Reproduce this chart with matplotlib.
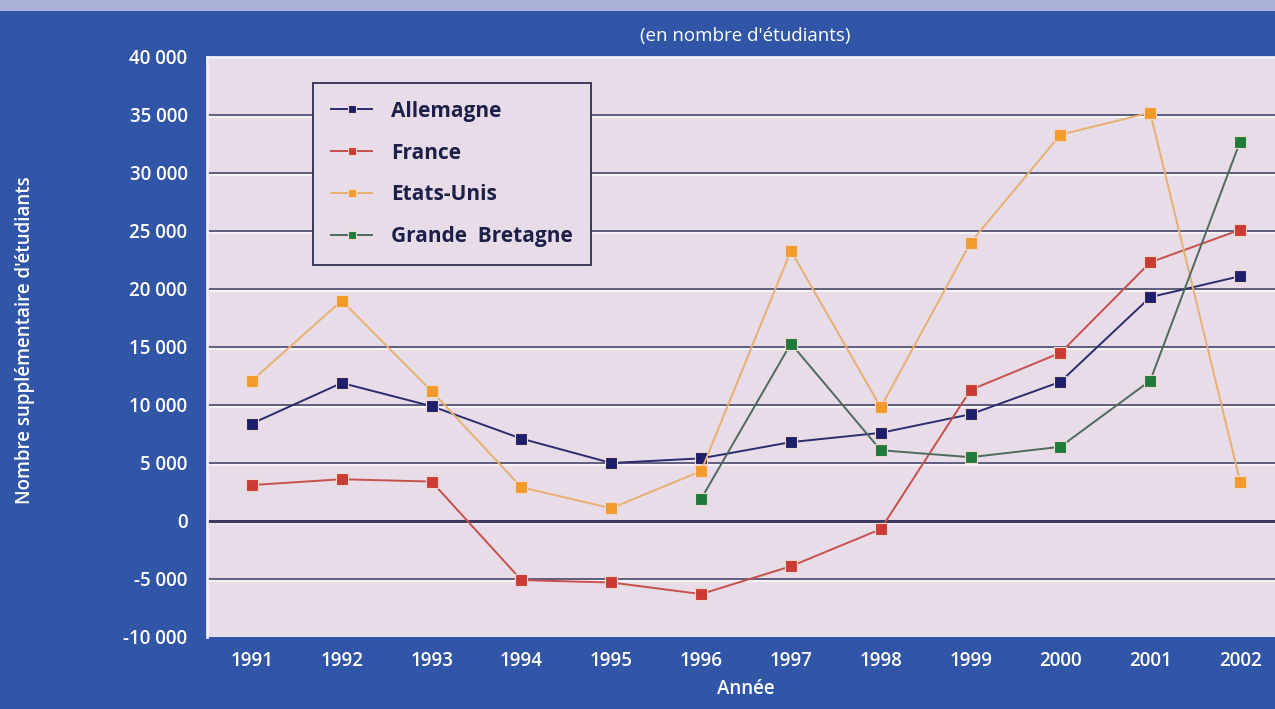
import numpy as np
import matplotlib.pyplot as plt
import matplotlib.transforms as mtransforms
from matplotlib.ticker import FuncFormatter

# data
years = [1991, 1992, 1993, 1994, 1995, 1996, 1997, 1998, 1999, 2000, 2001, 2002]
allemagne = [8400, 11900, 9900, 7100, 5000, 5400, 6800, 7600, 9200, 12000, 19300, 21100]
france = [3100, 3600, 3400, -5100, -5300, -6300, -3900, -700, 11300, 14500, 22300, 25100]
etats_unis = [12100, 19000, 11200, 2900, 1100, 4300, 23300, 9800, 24000, 33300, 35200, 3400]
grande_bretagne = [np.nan, np.nan, np.nan, np.nan, np.nan, 1900, 15300, 6100, 5500, 6400, 12100, 32700]

series = [
    ("Allemagne", allemagne, "#1e1f6a", "#2a2c6e"),
    ("France", france, "#cc3a35", "#c8504a"),
    ("Etats-Unis", etats_unis, "#f29a2a", "#e8b070"),
    ("Grande  Bretagne", grande_bretagne, "#1f7a3c", "#4f6a5a"),
]

bg_blue = "#3155a7"
plot_bg = "#e7dce8"
text_col = "white"

plt.rcParams['font.family'] = ['Open Sans', 'DejaVu Sans']

fig = plt.figure(figsize=(12.75, 7.09), dpi=100, facecolor=bg_blue)
# light strip at the very top
fig.patches.append(plt.Rectangle((0, 0.985), 1, 0.015, transform=fig.transFigure,
                                 facecolor="#a9b3da", edgecolor="none", zorder=0))

ax = fig.add_axes([207 / 1275, 72 / 709, 1078 / 1275, 580 / 709])
ax.set_facecolor(plot_bg)

x = np.arange(1, len(years) + 1)
ax.set_xlim(0.5, 12.5)
ax.set_ylim(-10000, 40000)

# gridlines: dark line with a light highlight just below
yt = np.arange(-10000, 40001, 5000)
shift = mtransforms.ScaledTranslation(0, -1.5 / 72, fig.dpi_scale_trans)
for v in yt[1:-1]:
    ax.plot([0, 1], [v, v], color="white", lw=1.2, alpha=0.8, zorder=1,
            transform=ax.get_yaxis_transform() + shift)
    ax.axhline(v, color="#3b3a5e", lw=2.2 if v == 0 else 1.1, zorder=1.5)

for name, vals, mcol, lcol in series:
    ax.plot(x, vals, color=lcol, lw=1.4, zorder=3, label=name,
            marker="s", markersize=8, markerfacecolor=mcol,
            markeredgecolor="#f0d8d0", markeredgewidth=0.8)

ax.set_xticks(x)
ax.set_xticklabels([str(y) for y in years])
ax.set_yticks(yt)
ax.yaxis.set_major_formatter(FuncFormatter(lambda v, p: f"{int(v):,}".replace(",", " ")))
ax.tick_params(axis="both", colors=text_col, labelsize=13.5, length=0)
ax.tick_params(axis="x", pad=10)
ax.tick_params(axis="y", pad=14)
for lab in ax.get_xticklabels() + ax.get_yticklabels():
    lab.set_fontweight("semibold")

for s in ["right", "bottom"]:
    ax.spines[s].set_visible(False)
ax.spines["top"].set_color("#f4eef6")
ax.spines["left"].set_color("#f4eef6")
ax.spines["top"].set_linewidth(2)
ax.spines["left"].set_linewidth(2)

ax.set_xlabel("Année", color=text_col, fontsize=13.5, fontweight="semibold", labelpad=6)
fig.text(25 / 1275, 1 - 340 / 709, "Nombre supplémentaire d'étudiants", rotation=90,
         color=text_col, fontsize=13.5, fontweight="semibold", ha="center", va="center")
fig.text(745 / 1275, 1 - 36 / 709, "(en nombre d'étudiants)", color=text_col,
         fontsize=13.5, ha="center", va="center")

leg = ax.legend(loc="upper left", bbox_to_anchor=(106 / 1078, 1 - 26 / 580),
                frameon=True, fancybox=False, facecolor=plot_bg, edgecolor="#2d2d50",
                framealpha=1, fontsize=15, handlelength=2.0, labelspacing=1.0,
                handletextpad=0.9, borderpad=0.85, borderaxespad=0, markerscale=0.8)
leg.get_frame().set_linewidth(1.3)
for t in leg.get_texts():
    t.set_color("#1c1f48")
    t.set_fontweight("bold")

fig.savefig("out.png", dpi=100, facecolor=bg_blue)
